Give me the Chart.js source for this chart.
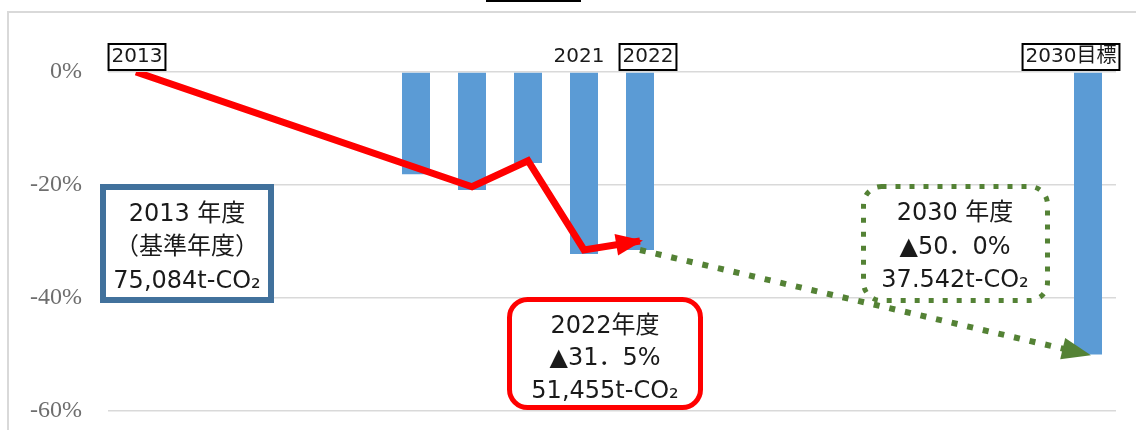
<!DOCTYPE html>
<html lang="ja">
<head>
<meta charset="utf-8">
<script src="https://cdn.jsdelivr.net/npm/chart.js@4/dist/chart.umd.min.js"></script>
<style>
  html, body { margin: 0; padding: 0; background: #fff; }
  #wrap { width: 1136px; height: 430px; position: relative; }
</style>
</head>
<body>
<div id="wrap"><canvas id="chart"></canvas></div>
<script>
// ─── Data ───────────────────────────────
const years = ["2013", "2014", "2015", "2016", "2017", "2018", "2019", "2020", "2021",
               "2022", "2023", "2024", "2025", "2026", "2027", "2028", "2029", "2030"];
// bar: reduction rate vs 2013 (%)
const reduction = [null, null, null, null, null, -18.1, -20.9, -16.1, -32.2,
                   -31.5, null, null, null, null, null, null, null, -50.0];
// red trend arrow
const trend = [0, null, null, null, null, null, -20.3, -15.7, -31.5,
               -29.9, null, null, null, null, null, null, null, null];
// green dotted target arrow
const target = [null, null, null, null, null, null, null, null, null,
                -31.5, null, null, null, null, null, null, null, -50.0];
const yTicks = [0, -20, -40, -60];

// boxed / plain year tags above the 0% line
const tagYears = ["2013", "2021", "2022", "2030"];
const tagTexts = ["2013", "2021", "2022", "2030目標"];
const tagBoxed = [true, false, true, true];

const noteBase   = ["2013 年度", "（基準年度）", "75,084t-CO₂"];
const noteNow    = ["2022年度", "▲31．5%", "51,455t-CO₂"];
const noteTarget = ["2030 年度", "▲50．0%", "37.542t-CO₂"];

const JP = '"DejaVu Sans", "Noto Sans CJK JP", sans-serif';

// ─── Helpers ────────────────────────────
function roundRect(ctx, x, y, w, h, r) {
  ctx.beginPath();
  ctx.moveTo(x + r, y);
  ctx.arcTo(x + w, y, x + w, y + h, r);
  ctx.arcTo(x + w, y + h, x, y + h, r);
  ctx.arcTo(x, y + h, x, y, r);
  ctx.arcTo(x, y, x + w, y, r);
  ctx.closePath();
}

function drawLines(ctx, lines, cx, ys) {
  ctx.fillStyle = "#1a1a1a";
  ctx.font = `24px ${JP}`;
  ctx.textAlign = "center";
  ctx.textBaseline = "middle";
  lines.forEach((t, i) => ctx.fillText(t, cx, ys[i]));
}

function arrowHead(ctx, p0, p1, len, half, color) {
  const a = Math.atan2(p1.y - p0.y, p1.x - p0.x);
  ctx.save();
  ctx.translate(p1.x, p1.y);
  ctx.rotate(a);
  ctx.fillStyle = color;
  ctx.beginPath();
  ctx.moveTo(3, 0);
  ctx.lineTo(-len, -half);
  ctx.lineTo(-len, half);
  ctx.closePath();
  ctx.fill();
  ctx.restore();
}

function lastTwo(chart, dsIndex) {
  const values = chart.data.datasets[dsIndex].data;
  const meta = chart.getDatasetMeta(dsIndex);
  const idx = values.map((v, i) => (v === null ? -1 : i)).filter(i => i >= 0);
  return [meta.data[idx[idx.length - 2]], meta.data[idx[idx.length - 1]]];
}

// ─── Plugin: frame, tags, arrows, notes ─
const decor = {
  id: "decor",
  beforeDraw(chart) {
    const ctx = chart.ctx;
    ctx.save();
    ctx.strokeStyle = "#d9d9d9";
    ctx.lineWidth = 2;
    ctx.beginPath();
    ctx.moveTo(8, 430);
    ctx.lineTo(8, 12);
    ctx.lineTo(1136, 12);
    ctx.stroke();
    ctx.fillStyle = "#000";
    ctx.fillRect(486, 0, 95, 2);
    ctx.restore();
  },
  afterDatasetsDraw(chart) {
    const ctx = chart.ctx;
    const [r0, r1] = lastTwo(chart, 1);
    arrowHead(ctx, r0, r1, 24, 11, "#ff0000");
    const [g0, g1] = lastTwo(chart, 2);
    arrowHead(ctx, g0, g1, 26, 11, "#548235");
  },
  afterDraw(chart) {
    const ctx = chart.ctx;
    const x = chart.scales.x;
    const offsets = { "2013": 1, "2021": -5, "2022": 8, "2030": -17 };
    ctx.save();
    ctx.font = `20px ${JP}`;
    ctx.textAlign = "center";
    ctx.textBaseline = "middle";
    tagYears.forEach((y, i) => {
      const cx = x.getPixelForValue(years.indexOf(y)) + offsets[y];
      const w = ctx.measureText(tagTexts[i]).width + 6;
      if (tagBoxed[i]) {
        ctx.fillStyle = "#fff";
        ctx.fillRect(cx - w / 2, 44, w, 26);
        ctx.strokeStyle = "#000";
        ctx.lineWidth = 2;
        ctx.strokeRect(cx - w / 2, 44, w, 26);
      }
      ctx.fillStyle = "#1a1a1a";
      ctx.fillText(tagTexts[i], cx, 57);
    });

    // base year note
    ctx.fillStyle = "#fff";
    ctx.fillRect(103, 187, 168, 113);
    ctx.strokeStyle = "#41719c";
    ctx.lineWidth = 6;
    ctx.strokeRect(103, 187, 168, 113);
    drawLines(ctx, noteBase, 187, [215, 248, 282]);

    // 2022 note
    roundRect(ctx, 509.5, 299.5, 191, 108, 18);
    ctx.fillStyle = "#fff";
    ctx.fill();
    ctx.strokeStyle = "#ff0000";
    ctx.lineWidth = 5;
    ctx.stroke();
    drawLines(ctx, noteNow, 605, [327, 359, 392]);

    // 2030 note
    roundRect(ctx, 863.5, 186.5, 184, 114, 18);
    ctx.fillStyle = "#fff";
    ctx.fill();
    ctx.strokeStyle = "#548235";
    ctx.lineWidth = 5;
    ctx.setLineDash([5, 9]);
    ctx.stroke();
    ctx.setLineDash([]);
    drawLines(ctx, noteTarget, 955, [214, 248, 281]);
    ctx.restore();
  },
};

// ─── Chart ──────────────────────────────
new Chart(document.getElementById("chart"), {
  data: {
    labels: years,
    datasets: [
      {
        type: "bar",
        data: reduction,
        backgroundColor: "#5b9bd5",
        barPercentage: 0.5,
        categoryPercentage: 1,
        order: 3,
      },
      {
        type: "line",
        data: trend,
        borderColor: "#ff0000",
        borderWidth: 7,
        borderJoinStyle: "miter",
        pointRadius: 0,
        spanGaps: true,
        tension: 0,
        order: 1,
      },
      {
        type: "line",
        data: target,
        borderColor: "#548235",
        borderWidth: 6,
        borderDash: [6, 10],
        pointRadius: 0,
        spanGaps: true,
        tension: 0,
        order: 0,
      },
    ],
  },
  options: {
    responsive: true,
    maintainAspectRatio: false,
    animation: false,
    layout: { padding: { top: 72, right: 20, bottom: 19, left: 0 } },
    plugins: { legend: { display: false }, tooltip: { enabled: false } },
    scales: {
      x: {
        display: false,
        grid: { display: false },
      },
      y: {
        min: -60,
        max: 0,
        afterFit: s => { s.width = 108; s.paddingTop = 0; s.paddingBottom = 0; },
        afterBuildTicks: s => { s.ticks = yTicks.map(v => ({ value: v })); },
        border: { display: false },
        grid: { color: "#d9d9d9", lineWidth: 1.5, drawTicks: false },
        ticks: {
          padding: 26,
          color: "#6e6e6e",
          font: { family: '"Liberation Serif", serif', size: 24 },
          callback: v => v + "%",
        },
      },
    },
  },
  plugins: [decor],
});
</script>
</body>
</html>
